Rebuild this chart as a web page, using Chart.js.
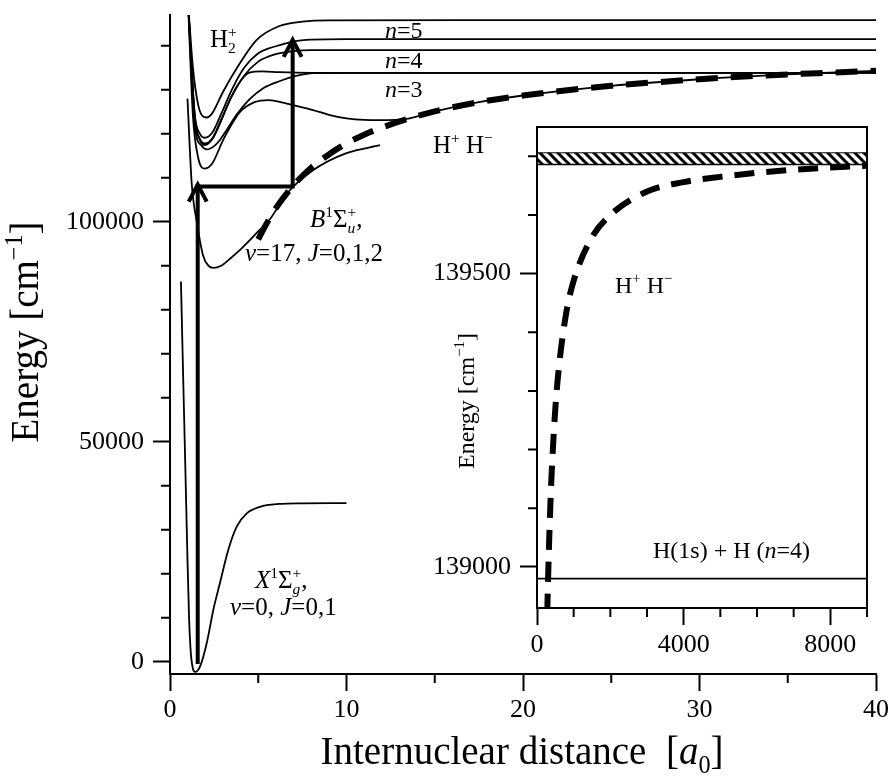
<!DOCTYPE html>
<html>
<head>
<meta charset="utf-8">
<script src="https://cdn.jsdelivr.net/npm/chart.js@4.4.1/dist/chart.umd.min.js"></script>
<style>
    body { margin: 0; background: #fff; }
    #wrap { position: relative; width: 888px; height: 781px; }
    #wrap canvas { position: absolute; left: 0; top: 0; }
</style>
</head>
<body>
<div id="wrap">
    <canvas id="mainChart" width="888" height="781"></canvas>
    <canvas id="insetChart" width="888" height="781"></canvas>
</div>
<script>
// 主图：核间距 R [a0] 与能量 [cm-1]
const mainXTicks = [0, 10, 20, 30, 40];
const mainXMinor = [5, 15, 25, 35];
const mainYTicks = [0, 50000, 100000];
const mainYMinor = [10000, 20000, 30000, 40000, 60000, 70000, 80000, 90000, 110000, 120000, 130000, 140000];

// X 基态
const xStateR = [0.62, 0.75, 0.87, 0.98, 1.08, 1.18, 1.3, 1.42, 1.7, 2.08, 2.45, 2.83, 3.3, 3.78, 4.35, 5.1, 6.2, 7.5, 10];
const xStateE = [86400, 64000, 44000, 25000, 10000, 2000, -1600, -2300, -1100, 4200, 11700, 17900, 25400, 30700, 33700, 35200, 35850, 36000, 36050];

// B 态
const bStateR = [0.99, 1.23, 1.53, 1.87, 2.2, 2.45, 2.9, 3.4, 3.97, 4.9, 5.7, 6.6, 8.1, 10, 11.9];
const bStateE = [128000, 108700, 99700, 92400, 89900, 89500, 90000, 91600, 93600, 97400, 100800, 106300, 111700, 115600, 117400];

// H2+ 离子
const ionR = [1.02, 1.3, 1.6, 1.85, 2.08, 2.4, 3.0, 3.8, 4.9, 6.2, 7.5, 9, 20, 40];
const ionE = [150000, 135000, 126500, 124000, 123700, 124700, 129500, 135000, 141300, 144500, 145500, 145800, 145840, 145840];

// 里德堡态 n=5, n=4
const rydR = [1.02, 1.4, 1.7, 1.98, 2.4, 2.9, 3.5, 4.2, 5.0, 5.6, 6.23, 7.0, 8.0, 10, 20, 40];
const n5E = [150000, 124500, 120000, 119100, 120300, 124500, 130000, 135000, 138300, 139400, 140150, 141000, 141400, 141520, 141520, 141520];
const n4E = [150000, 123500, 118800, 117800, 119000, 123200, 128500, 133200, 136400, 137600, 138340, 138800, 139000, 139000, 139000, 139000];

// n=3 两条
const n3aR = [1.02, 1.4, 1.7, 1.98, 2.4, 2.9, 3.4, 3.9, 4.5, 5.2, 6.2, 8, 20, 40];
const n3aE = [150000, 124000, 118500, 117430, 118800, 123000, 127800, 131500, 133900, 134200, 134000, 133860, 133860, 133860];
const n3bR = [1.02, 1.4, 1.8, 2.1, 2.5, 2.83, 3.2, 3.8, 4.5, 5.3, 6.23, 7.2, 8.1, 10, 20, 40];
const n3bE = [150000, 122000, 117200, 116450, 117200, 118600, 120800, 124500, 127800, 130400, 132000, 133200, 133800, 133860, 133860, 133860];

// 双势阱态
const humpR = [1.02, 1.3, 1.6, 1.98, 2.4, 3.0, 3.4, 3.97, 4.8, 5.6, 6.4, 7.2, 8.1, 9.0, 10, 11, 11.9, 13.4, 15, 17.5, 20, 25, 30, 35, 40];
const humpE = [150000, 124000, 114500, 112100, 113300, 118500, 121500, 125000, 127200, 127650, 127100, 126300, 125400, 124300, 123500, 123150, 123100, 123400, 125100, 127200, 128700, 130900, 132400, 133500, 134300];

// H+ H- 离子对（虚线）
const pairR = [5.0, 5.5, 6.0, 7.0, 8.0, 9.0, 10, 11, 12, 13.5, 15, 17.5, 20, 22.5, 25, 27.5, 30, 32.5, 35, 37.5, 40];
const pairE = [96000, 99800, 103100, 108300, 112300, 115300, 117800, 119800, 121400, 123400, 125100, 127200, 128700, 129900, 130900, 131700, 132400, 133000, 133500, 133900, 134300];

// 激发箭头
const arrowR = [1.57, 1.57, 6.95, 6.95];
const arrowE = [-500, 108000, 108000, 140900];

// 插图：大 R 区域
const insetXTicks = [0, 4000, 8000];
const insetXMinor = [1000, 2000, 3000, 5000, 6000, 7000, 9000];
const insetYTicks = [139000, 139500];
const insetYMinor = [139100, 139200, 139300, 139400, 139600, 139700];
const insetPairR = [280, 290, 300, 350, 400, 500, 600, 800, 1000, 1500, 2000, 3000, 4000, 5000, 6000, 7000, 8000, 9000];
const insetPairE = [138920, 138950, 138975, 139080, 139160, 139270, 139342, 139434, 139488, 139562, 139600, 139640, 139656, 139665, 139672, 139677, 139681, 139684];
const limitR = [0, 9000];
const limitN4E = [138980, 138980];
const bandTopE = [139706, 139706];
const bandBottomE = [139686, 139686];

const serif = '"Liberation Serif", "Times New Roman", serif';

function pts(rs, es) {
    return rs.map((r, i) => ({ x: r, y: es[i] }));
}

function thin(rs, es) {
    return { data: pts(rs, es), borderColor: '#000', borderWidth: 1.8, pointRadius: 0, cubicInterpolationMode: 'monotone', fill: false };
}

// 富文本：上下标、斜体
function drawRich(ctx, x, y, parts, size, measureOnly) {
    let cx = x, prevStart = x;
    parts.forEach(p => {
        const s = (p.sup || p.sub) ? size * 0.62 : size;
        ctx.font = (p.i ? 'italic ' : '') + s + 'px ' + serif;
        const w = ctx.measureText(p.t).width;
        const dy = p.sup ? -size * 0.42 : (p.sub ? size * 0.22 : 0);
        const px = p.same ? prevStart : cx;
        if (!measureOnly) ctx.fillText(p.t, px, y + dy);
        if (p.same) {
            cx = Math.max(cx, px + w);
        } else {
            prevStart = px;
            cx = px + w;
        }
    });
    return cx - x;
}

function drawRichCentered(ctx, cx, y, parts, size, rotate) {
    ctx.save();
    ctx.fillStyle = '#000';
    ctx.textAlign = 'left';
    ctx.textBaseline = 'alphabetic';
    ctx.translate(cx, y);
    if (rotate) ctx.rotate(-Math.PI / 2);
    const w = drawRich(ctx, 0, 0, parts, size, true);
    drawRich(ctx, -w / 2, 0, parts, size, false);
    ctx.restore();
}

function drawLeft(ctx, x, y, parts, size) {
    ctx.save();
    ctx.fillStyle = '#000';
    ctx.textAlign = 'left';
    ctx.textBaseline = 'alphabetic';
    drawRich(ctx, x, y, parts, size, false);
    ctx.restore();
}

// 次刻度
function minorTicks(chart, xVals, yVals, len) {
    const ctx = chart.ctx, area = chart.chartArea;
    const xs = chart.scales.x, ys = chart.scales.y;
    ctx.save();
    ctx.strokeStyle = '#000';
    ctx.lineWidth = 2;
    ctx.beginPath();
    xVals.forEach(v => {
        const p = xs.getPixelForValue(v);
        ctx.moveTo(p, area.bottom);
        ctx.lineTo(p, area.bottom + len);
    });
    yVals.forEach(v => {
        const p = ys.getPixelForValue(v);
        ctx.moveTo(area.left, p);
        ctx.lineTo(area.left - len, p);
    });
    ctx.stroke();
    ctx.restore();
}

function arrowHead(ctx, x, y) {
    ctx.beginPath();
    ctx.moveTo(x - 9, y + 15);
    ctx.lineTo(x, y - 2);
    ctx.lineTo(x + 9, y + 15);
    ctx.stroke();
}

// 固定坐标轴尺寸，去掉标签溢出带来的额外边距
function fixX(h) {
    return s => { s.height = h; s.paddingLeft = 0; s.paddingRight = 0; };
}
function fixY(w) {
    return s => { s.width = w; s.paddingTop = 0; s.paddingBottom = 0; };
}

const sigmaB = [{ t: 'B', i: true }, { t: '1', sup: true }, { t: 'Σ' }, { t: 'u', sub: true, i: true }, { t: '+', sup: true, same: true }, { t: ',' }];
const sigmaX = [{ t: 'X', i: true }, { t: '1', sup: true }, { t: 'Σ' }, { t: 'g', sub: true, i: true }, { t: '+', sup: true, same: true }, { t: ',' }];
const hPair = [{ t: 'H' }, { t: '+', sup: true }, { t: ' H' }, { t: '−', sup: true }];

const mainDecor = {
    id: 'mainDecor',
    afterDraw(chart) {
        const ctx = chart.ctx;
        minorTicks(chart, mainXMinor, mainYMinor, 9);

        // 箭头头部
        const meta = chart.getDatasetMeta(chart.data.datasets.length - 1);
        ctx.save();
        ctx.strokeStyle = '#000';
        ctx.lineWidth = 4;
        ctx.lineJoin = 'miter';
        [1, 3].forEach(i => arrowHead(ctx, meta.data[i].x, meta.data[i].y));
        ctx.restore();

        drawLeft(ctx, 210, 47, [{ t: 'H' }, { t: '2', sub: true }, { t: '+', sup: true, same: true }], 25);
        drawLeft(ctx, 385, 38, [{ t: 'n', i: true }, { t: '=5' }], 24);
        drawLeft(ctx, 385, 68, [{ t: 'n', i: true }, { t: '=4' }], 24);
        drawLeft(ctx, 385, 97, [{ t: 'n', i: true }, { t: '=3' }], 24);
        drawLeft(ctx, 433, 153, hPair, 25);
        drawLeft(ctx, 310, 227, sigmaB, 25);
        drawLeft(ctx, 245, 261, [{ t: 'v', i: true }, { t: '=17, ' }, { t: 'J', i: true }, { t: '=0,1,2' }], 25);
        drawLeft(ctx, 255, 588, sigmaX, 25);
        drawLeft(ctx, 230, 615, [{ t: 'v', i: true }, { t: '=0, ' }, { t: 'J', i: true }, { t: '=0,1' }], 25);

        // 坐标轴标题
        drawRichCentered(ctx, 38, 332, [{ t: 'Energy [cm' }, { t: '−1', sup: true }, { t: ']' }], 39, true);
        drawRichCentered(ctx, 522, 764, [{ t: 'Internuclear distance  [' }, { t: 'a', i: true }, { t: '0', sub: true }, { t: ']' }], 39, false);
    }
};

const tickFont = { family: serif, size: 26 };

new Chart(document.getElementById('mainChart'), {
    type: 'line',
    data: {
        datasets: [
            thin(xStateR, xStateE),
            thin(bStateR, bStateE),
            thin(ionR, ionE),
            thin(rydR, n5E),
            thin(rydR, n4E),
            thin(n3aR, n3aE),
            thin(n3bR, n3bE),
            thin(humpR, humpE),
            { data: pts(pairR, pairE), borderColor: '#000', borderWidth: 6, borderDash: [22, 13], pointRadius: 0, cubicInterpolationMode: 'monotone', fill: false },
            { data: pts(arrowR, arrowE), borderColor: '#000', borderWidth: 4, pointRadius: 0, tension: 0, fill: false, borderJoinStyle: 'miter' }
        ]
    },
    options: {
        responsive: false,
        animation: false,
        layout: { padding: { top: 15, right: 12, left: 0, bottom: 0 } },
        plugins: { legend: { display: false }, tooltip: { enabled: false } },
        scales: {
            x: {
                type: 'linear', min: 0, max: 40,
                afterFit: fixX(107),
                afterBuildTicks: s => { s.ticks = mainXTicks.map(v => ({ value: v })); },
                grid: { drawOnChartArea: false, tickLength: 17, tickWidth: 2, tickColor: '#000' },
                border: { color: '#000', width: 2 },
                ticks: { color: '#000', font: tickFont, padding: 4, maxRotation: 0, callback: v => String(v) }
            },
            y: {
                type: 'linear', min: -2800, max: 147000,
                afterFit: fixY(170),
                afterBuildTicks: s => { s.ticks = mainYTicks.map(v => ({ value: v })); },
                grid: { drawOnChartArea: false, tickLength: 17, tickWidth: 2, tickColor: '#000' },
                border: { color: '#000', width: 2 },
                ticks: { color: '#000', font: tickFont, padding: 9, callback: v => String(v) }
            }
        }
    },
    plugins: [mainDecor]
});

// 插图
const insetCanvas = document.getElementById('insetChart');
function makeHatch(ctx) {
    const c = document.createElement('canvas');
    c.width = 9; c.height = 9;
    const g = c.getContext('2d');
    g.strokeStyle = '#000';
    g.lineWidth = 3;
    g.beginPath();
    g.moveTo(-3, -3); g.lineTo(12, 12);
    g.moveTo(-3, 6); g.lineTo(3, 12);
    g.moveTo(6, -3); g.lineTo(12, 3);
    g.stroke();
    return ctx.createPattern(c, 'repeat');
}

const insetDecor = {
    id: 'insetDecor',
    beforeDatasetsDraw(chart) {
        const a = chart.chartArea, ctx = chart.ctx;
        ctx.save();
        ctx.fillStyle = '#fff';
        ctx.fillRect(a.left, a.top, a.right - a.left, a.bottom - a.top);
        ctx.restore();
    },
    afterDraw(chart) {
        const a = chart.chartArea, ctx = chart.ctx;
        ctx.save();
        ctx.strokeStyle = '#000';
        ctx.lineWidth = 2;
        ctx.strokeRect(a.left, a.top, a.right - a.left, a.bottom - a.top);
        ctx.restore();
        minorTicks(chart, insetXMinor, insetYMinor, 9);
        drawLeft(ctx, 615, 293, hPair, 24);
        drawLeft(ctx, 653, 558, [{ t: 'H(1s) + H (' }, { t: 'n', i: true }, { t: '=4)' }], 24);
        drawRichCentered(ctx, 474, 401, [{ t: 'Energy [cm' }, { t: '−1', sup: true }, { t: ']' }], 24, true);
    }
};

new Chart(insetCanvas, {
    type: 'line',
    data: {
        datasets: [
            { data: pts(limitR, bandTopE), borderColor: '#000', borderWidth: 1, pointRadius: 0, fill: '+1', backgroundColor: makeHatch(insetCanvas.getContext('2d')) },
            { data: pts(limitR, bandBottomE), borderColor: '#000', borderWidth: 1.5, pointRadius: 0, fill: false },
            { data: pts(limitR, limitN4E), borderColor: '#000', borderWidth: 1.8, pointRadius: 0, fill: false },
            { data: pts(insetPairR, insetPairE), borderColor: '#000', borderWidth: 6, borderDash: [20, 12], pointRadius: 0, cubicInterpolationMode: 'monotone', fill: false }
        ]
    },
    options: {
        responsive: false,
        animation: false,
        layout: { padding: { left: 427, right: 21, top: 127, bottom: 113 } },
        plugins: { legend: { display: false }, tooltip: { enabled: false } },
        scales: {
            x: {
                type: 'linear', min: 0, max: 9000,
                afterFit: fixX(60),
                afterBuildTicks: s => { s.ticks = insetXTicks.map(v => ({ value: v })); },
                grid: { drawOnChartArea: false, tickLength: 17, tickWidth: 2, tickColor: '#000' },
                border: { color: '#000', width: 2 },
                ticks: { color: '#000', font: tickFont, padding: 5, maxRotation: 0, callback: v => String(v) }
            },
            y: {
                type: 'linear', min: 138930, max: 139750,
                afterFit: fixY(110),
                afterBuildTicks: s => { s.ticks = insetYTicks.map(v => ({ value: v })); },
                grid: { drawOnChartArea: false, tickLength: 17, tickWidth: 2, tickColor: '#000' },
                border: { color: '#000', width: 2 },
                ticks: { color: '#000', font: tickFont, padding: 9, callback: v => String(v) }
            }
        }
    },
    plugins: [insetDecor]
});
</script>
</body>
</html>
